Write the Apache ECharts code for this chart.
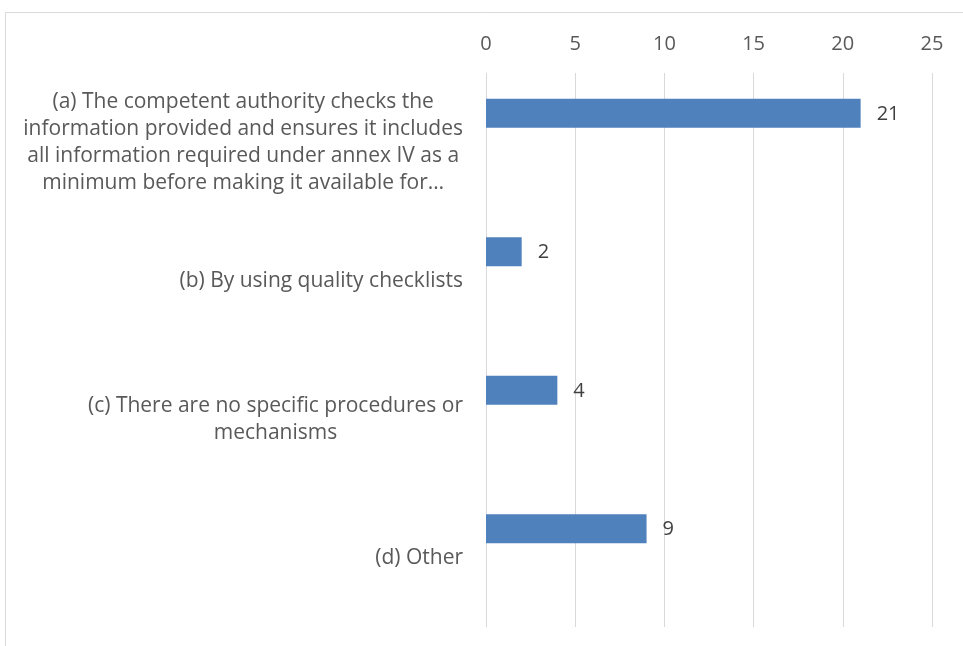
<!DOCTYPE html>
<html>
<head>
<meta charset="utf-8">
<script src="https://cdn.jsdelivr.net/npm/echarts@6/dist/echarts.min.js"></script>
<style>
  html, body { margin: 0; padding: 0; background: #fff; }
  #chart { width: 963px; height: 646px; }
</style>
</head>
<body>
<div id="chart"></div>
<script>
// categories (top to bottom), line breaks as in the original chart
var categories = [
  '(a) The competent authority checks the\ninformation provided and ensures it includes\nall information required under annex IV as a\nminimum before making it available for…',
  '(b) By using quality checklists',
  '(c) There are no specific procedures or\nmechanisms',
  '(d) Other'
];
var counts = [21, 2, 4, 9];
var xTicks = [0, 5, 10, 15, 20, 25];

var textFont = 'Open Sans';
var chart = echarts.init(document.getElementById('chart'));

// Excel-style clustered layout: the data series sits in the first of three slots
var emptySeries = categories.map(function () { return null; });

var option = {
  animation: false,
  grid: { left: 486, right: 31, top: 73, bottom: 19, containLabel: false },
  xAxis: {
    type: 'value',
    position: 'top',
    min: xTicks[0],
    max: xTicks[xTicks.length - 1],
    interval: 5,
    axisLine: { show: false },
    axisTick: { show: false },
    axisLabel: { color: '#595959', fontSize: 20, fontFamily: textFont, margin: 19 },
    splitLine: { show: true, lineStyle: { color: '#d9d9d9', width: 1 } }
  },
  yAxis: {
    type: 'category',
    inverse: true,
    data: categories,
    axisLine: { show: false },
    axisTick: { show: false },
    axisLabel: {
      margin: 23, align: 'right',
      formatter: function (v) {
        // centre every line inside the label block
        return v.split('\n').map(function (l) { return '{c|' + l + '}'; }).join('\n');
      },
      rich: {
        c: { align: 'center', color: '#595959', fontSize: 21, fontFamily: textFont, lineHeight: 27 }
      }
    }
  },
  series: [
    {
      type: 'bar', data: counts, barWidth: 29, barGap: '0%',
      itemStyle: { color: '#4f81bd' },
      label: { show: true, position: 'right', distance: 16, offset: [0, 1], color: '#404040', fontSize: 20, fontFamily: textFont }
    },
    { type: 'bar', data: emptySeries, barWidth: 29, barGap: '0%' },
    { type: 'bar', data: emptySeries, barWidth: 29, barGap: '0%' }
  ],
  graphic: [{
    type: 'rect',
    shape: { x: 5.5, y: 12.5, width: 1200, height: 1200 },
    style: { fill: 'none', stroke: '#d9d9d9', lineWidth: 1 },
    silent: true
  }]
};
chart.setOption(option);
</script>
</body>
</html>
